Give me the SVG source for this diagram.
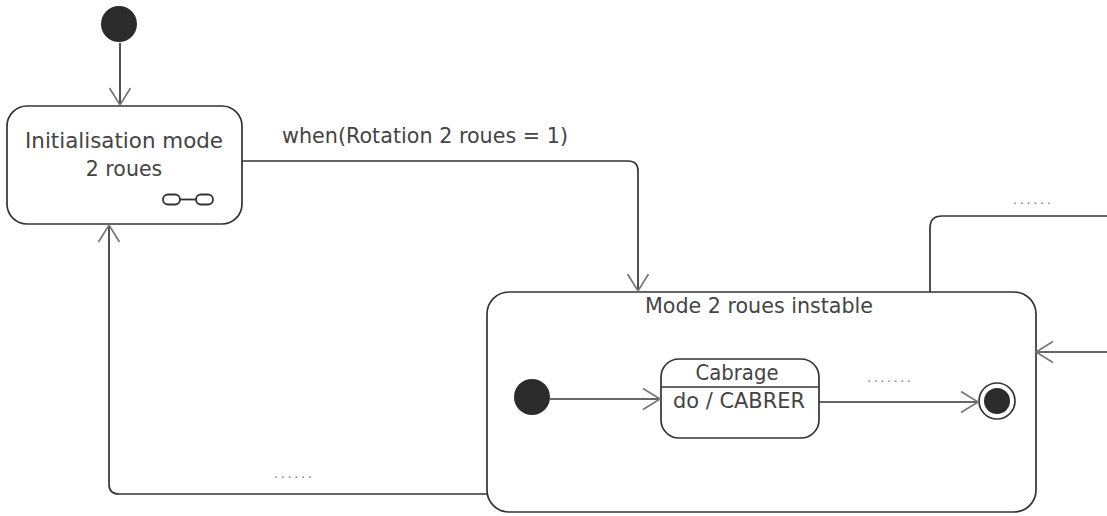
<svg xmlns="http://www.w3.org/2000/svg" width="1107" height="516" viewBox="0 0 1107 516">
<defs>
<marker id="open" viewBox="0 0 24 24" refX="19" refY="12" markerWidth="24" markerHeight="24" markerUnits="userSpaceOnUse" orient="auto">
<path d="M2,1.5 L19,12 L2,22.5" fill="none" stroke="#777" stroke-width="1.7"/>
</marker>
<style>
.st{fill:#fff;stroke:#333;stroke-width:1.7}
.ln{fill:none;stroke:#333;stroke-width:1.7}
.tx{font-family:"DejaVu Sans",sans-serif;fill:#444;text-anchor:middle;font-size:20.5px}
.dots{font-family:"DejaVu Sans",sans-serif;fill:#777;font-size:13px}
.ini{fill:#2b2b2b}
</style>
</defs>
<rect width="1107" height="516" fill="#fff"/>
<g id="initial-top"><circle class="ini" cx="119" cy="24" r="18"/></g>
<g id="init-mode">
<rect class="st" x="7" y="106" width="235" height="118" rx="20"/>
<text class="tx" x="124" y="148" textLength="198" lengthAdjust="spacingAndGlyphs">Initialisation mode</text>
<text class="tx" x="124" y="176">2 roues</text>
<g fill="none" stroke="#333" stroke-width="1.8">
<rect x="163" y="194.5" width="17" height="10" rx="5"/>
<rect x="196" y="194.5" width="17" height="10" rx="5"/>
<line x1="180" y1="199.5" x2="196" y2="199.5"/>
</g>
</g>
<g id="mode-instable">
<rect class="st" x="487" y="292" width="549" height="220" rx="22"/>
<text class="tx" x="759" y="313" textLength="228" lengthAdjust="spacingAndGlyphs">Mode 2 roues instable</text>
</g>
<g id="initial-inner"><circle class="ini" cx="532" cy="397" r="18"/></g>
<g id="cabrage">
<rect class="st" x="661" y="359" width="158" height="79" rx="18"/>
<line class="ln" x1="661" y1="387" x2="819" y2="387"/>
<text class="tx" x="737" y="380" textLength="83" lengthAdjust="spacingAndGlyphs">Cabrage</text>
<text class="tx" x="739" y="408" textLength="132" lengthAdjust="spacingAndGlyphs">do / CABRER</text>
</g>
<g id="final">
<circle cx="997" cy="401" r="18" fill="#fff" stroke="#333" stroke-width="1.7"/>
<circle class="ini" cx="997" cy="401" r="13"/>
</g>
<g id="connectors">
<path class="ln" d="M120,43 L120,105" marker-end="url(#open)"/>
<path class="ln" d="M242,161 L628,161 Q638,161 638,171 L638,291" marker-end="url(#open)"/>
<path class="ln" d="M487,494 L119,494 Q109,494 109,484 L109,225" marker-end="url(#open)"/>
<path class="ln" d="M930,292 L930,228 Q930,216 942,216 L1107,216"/>
<path class="ln" d="M1107,352 L1036,352" marker-end="url(#open)"/>
<path class="ln" d="M550,399 L660,399" marker-end="url(#open)"/>
<path class="ln" d="M819,402 L978,402" marker-end="url(#open)"/>
<text class="tx" x="425" y="143" textLength="286" lengthAdjust="spacingAndGlyphs">when(Rotation 2 roues = 1)</text>
<text class="dots" x="274" y="478" textLength="38" lengthAdjust="spacing">......</text>
<text class="dots" x="1013" y="204" textLength="38" lengthAdjust="spacing">......</text>
<text class="dots" x="867" y="382" textLength="44" lengthAdjust="spacing">.......</text>
</g>
</svg>
